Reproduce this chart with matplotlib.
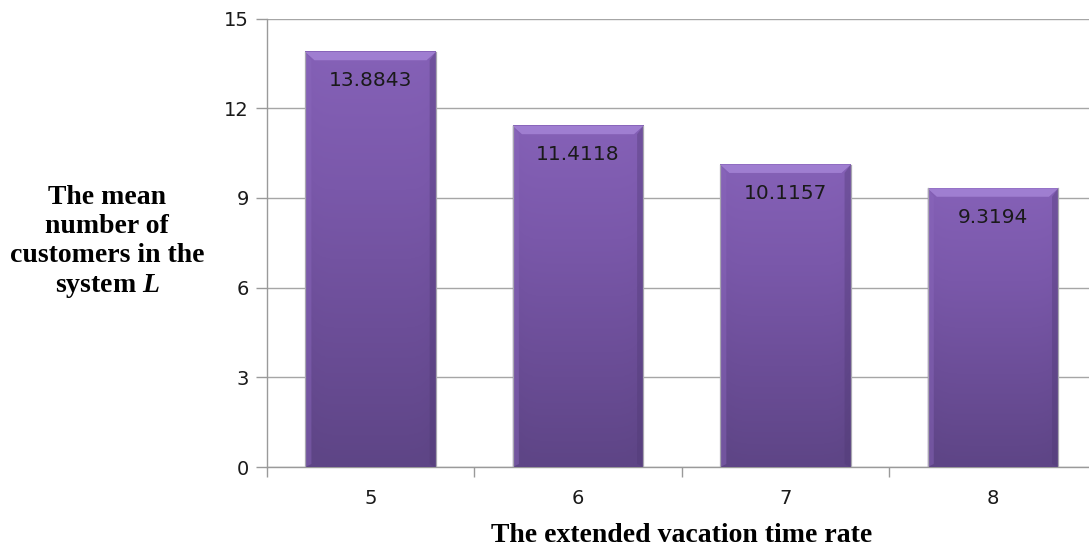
import numpy as np
import matplotlib
matplotlib.use("Agg")
import matplotlib.pyplot as plt
from matplotlib.colors import LinearSegmentedColormap
from matplotlib.ticker import FixedLocator

# Data
rates = ["5", "6", "7", "8"]
mean_customers = [13.8843, 11.4118, 10.1157, 9.3194]
value_labels = ["13.8843", "11.4118", "10.1157", "9.3194"]
y_ticks = [0, 3, 6, 9, 12, 15]

plt.rcParams["mathtext.fontset"] = "custom"
plt.rcParams["mathtext.it"] = "Liberation Serif:italic:bold"
plt.rcParams["mathtext.rm"] = "Liberation Serif:bold"

fig = plt.figure(figsize=(10.89, 5.53), dpi=100)
ax = fig.add_axes([0.245, 0.1555, 0.762, 0.811])

x = np.arange(len(rates))
bar_w = 0.63
bars = ax.bar(x, mean_customers, width=bar_w, color="none", edgecolor="none", zorder=3)

# vertical purple gradient with a subtle horizontal shading for each bar
cmap = LinearSegmentedColormap.from_list(
    "purple", ["#5e4586", "#6c4e98", "#7a58aa", "#8561b7"])
for b in bars:
    x0, y0 = b.get_x(), b.get_y()
    w, h = b.get_width(), b.get_height()
    vert = np.linspace(0, 1, 200)[:, None]
    horiz = np.linspace(-1, 1, 60)[None, :]
    shade = vert - 0.06 * horiz ** 8
    ax.imshow(shade, cmap=cmap, vmin=0, vmax=1, origin="lower",
              extent=(x0, x0 + w, y0, y0 + h), aspect="auto", zorder=3,
              interpolation="bilinear")
    # bevel along the top edge and the sides
    ax.fill([x0, x0 + w, x0 + w - 0.045, x0 + 0.045],
            [y0 + h, y0 + h, y0 + h - 0.28, y0 + h - 0.28],
            color="#a584d6", alpha=0.85, lw=0, zorder=4)
    ax.fill([x0, x0 + 0.03, x0 + 0.03, x0],
            [y0, y0 + 0.1, y0 + h - 0.28, y0 + h],
            color="#8b68bd", alpha=0.45, lw=0, zorder=4)
    ax.fill([x0 + w, x0 + w - 0.03, x0 + w - 0.03, x0 + w],
            [y0, y0 + 0.1, y0 + h - 0.28, y0 + h],
            color="#4e3872", alpha=0.35, lw=0, zorder=4)
    ax.plot([x0, x0], [y0, y0 + h], color="#a8a6b0", lw=0.9, zorder=5)
    ax.plot([x0 + w, x0 + w], [y0, y0 + h], color="#a8a6b0", lw=0.9, zorder=5)

for xi, v, lab in zip(x, mean_customers, value_labels):
    ax.text(xi, v - 0.97, lab, ha="center", va="center", fontsize=14.5,
            color="#1a1a1a", family="DejaVu Sans", zorder=6)

ax.set_xlim(-0.5, len(rates) - 0.5)
ax.set_ylim(0, 15)
ax.set_yticks(y_ticks)
ax.set_yticklabels([str(t) for t in y_ticks], fontsize=14, family="DejaVu Sans",
                   color="#1a1a1a")
ax.set_xticks(x)
ax.set_xticklabels(rates, fontsize=14, family="DejaVu Sans", color="#1a1a1a")
ax.tick_params(axis="x", which="major", length=0, pad=16)
ax.xaxis.set_minor_locator(FixedLocator(np.arange(-0.5, len(rates), 1.0)))
ax.tick_params(axis="x", which="minor", length=7, color="#9a9a9a", width=1)
ax.tick_params(axis="y", length=8, color="#9a9a9a", width=1, pad=5)

ax.grid(axis="y", color="#a6a6a6", lw=1, zorder=0)
for s in ["top", "right"]:
    ax.spines[s].set_visible(False)
for s in ["left", "bottom"]:
    ax.spines[s].set_color("#9a9a9a")
    ax.spines[s].set_linewidth(1)

fig.text(0.626, 0.031, "The extended vacation time rate", ha="center", va="center",
         fontsize=20, fontweight="bold", family="Liberation Serif")

fig.text(0.0985, 0.5615, "The mean\nnumber of\ncustomers in the\nsystem $L$",
         ha="center", va="center", fontsize=20, fontweight="bold",
         family="Liberation Serif", linespacing=1.22)

fig.savefig("out.png", dpi=100)
